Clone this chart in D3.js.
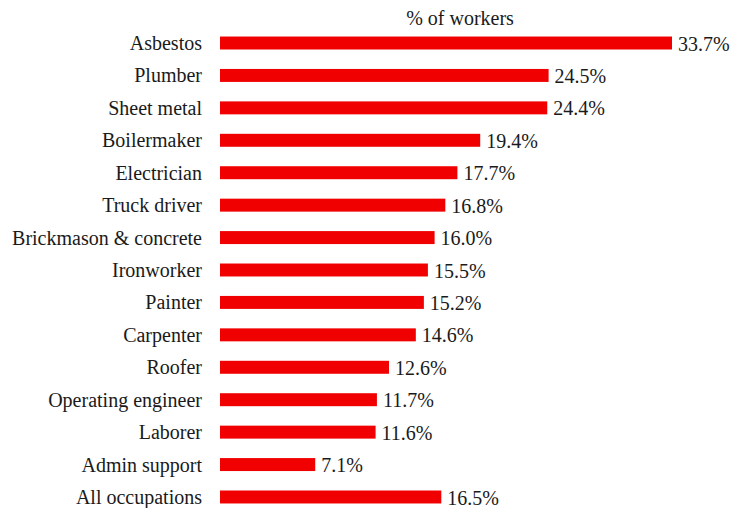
<!DOCTYPE html>
<html>
<head>
    <script src="https://d3js.org/d3.v7.min.js"></script>
    <style>
        body { margin: 0; background: #fff; }
    </style>
</head>
<body>
    <svg width="735" height="508"></svg>
    <script>
        // occupations and their shares
        const occupations = ["Asbestos", "Plumber", "Sheet metal", "Boilermaker", "Electrician",
            "Truck driver", "Brickmason & concrete", "Ironworker", "Painter", "Carpenter",
            "Roofer", "Operating engineer", "Laborer", "Admin support", "All occupations"];
        const shares = [33.7, 24.5, 24.4, 19.4, 17.7, 16.8, 16.0, 15.5, 15.2, 14.6, 12.6, 11.7, 11.6, 7.1, 16.5];
        const title = "% of workers";

        const font = "'Liberation Serif', 'Times New Roman', Times, serif";
        const svg = d3.select("svg")
            .attr("font-family", font);

        const x = d3.scaleLinear().domain([0, 33.7]).range([220, 672]);
        const y = d3.scaleBand()
            .domain(occupations)
            .range([26.8, 513.2])
            .paddingInner(0.6)
            .paddingOuter(0.3);

        const rows = occupations.map((name, i) => ({ name: name, value: shares[i] }));

        // bars
        svg.append("g")
            .selectAll("rect")
            .data(rows)
            .enter()
            .append("rect")
            .attr("x", x(0))
            .attr("y", d => y(d.name))
            .attr("width", d => x(d.value) - x(0))
            .attr("height", y.bandwidth())
            .attr("fill", "#f00000");

        // category labels
        svg.append("g")
            .selectAll("text")
            .data(rows)
            .enter()
            .append("text")
            .attr("x", 202)
            .attr("y", d => y(d.name) + y.bandwidth() / 2)
            .attr("dy", "0.35em")
            .attr("text-anchor", "end")
            .attr("font-family", font)
            .attr("font-size", 20)
            .attr("fill", "#1a1a1a")
            .text(d => d.name);

        // value labels
        svg.append("g")
            .selectAll("text")
            .data(rows)
            .enter()
            .append("text")
            .attr("x", d => x(d.value) + 6)
            .attr("y", d => y(d.name) + y.bandwidth() / 2)
            .attr("dy", "0.38em")
            .attr("font-family", font)
            .attr("font-size", 20)
            .attr("fill", "#1a1a1a")
            .text(d => d.value.toFixed(1) + "%");

        svg.append("text")
            .attr("x", 460)
            .attr("y", 25)
            .attr("text-anchor", "middle")
            .attr("font-family", font)
            .attr("font-size", 20)
            .attr("fill", "#1a1a1a")
            .text(title);
    </script>
</body>
</html>
